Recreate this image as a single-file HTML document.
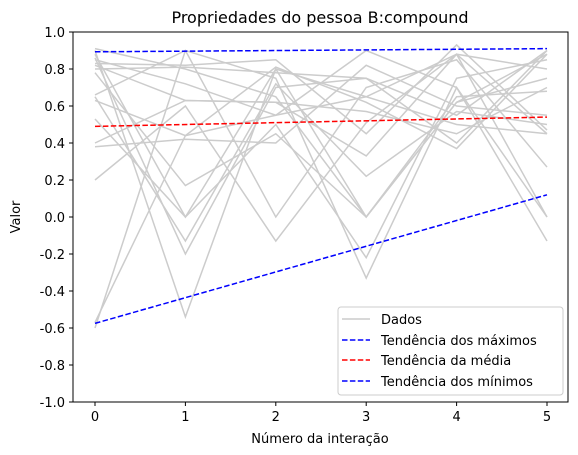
<!DOCTYPE html>
<html><head><meta charset="utf-8"><style>
body{margin:0;background:#fff;}
svg{display:block;font-family:"DejaVu Sans","Liberation Sans",sans-serif;}
</style></head><body>
<svg id="c" width="578" height="455" viewBox="0 0 578 455">
<rect width="578" height="455" fill="#fff"/>
<text x="320" y="23" text-anchor="middle" font-size="16">Propriedades do pessoa B:compound</text>
<g id="grid"></g>
<g id="series"></g>
<rect x="73" y="32" width="495" height="370" fill="none" stroke="#000" stroke-width="1"/>
<text x="320" y="443" text-anchor="middle" font-size="13">Número da interação</text>
<text transform="translate(20,217) rotate(-90)" text-anchor="middle" font-size="13">Valor</text>
<g>
<rect x="338" y="307" width="225" height="88" rx="3" fill="#fff" fill-opacity="0.8" stroke="#ccc"/>
<line x1="342" y1="319" x2="370" y2="319" stroke="#ccc" stroke-width="1.5"/>
<text x="381" y="324" font-size="13">Dados</text>
<line x1="342" y1="340" x2="370" y2="340" stroke="#0000ff" stroke-width="1.5" stroke-dasharray="5.5,2.4"/>
<text x="381" y="345" font-size="13">Tendência dos máximos</text>
<line x1="342" y1="360" x2="370" y2="360" stroke="#ff0000" stroke-width="1.5" stroke-dasharray="5.5,2.4"/>
<text x="381" y="365" font-size="13">Tendência da média</text>
<line x1="342" y1="381" x2="370" y2="381" stroke="#0000ff" stroke-width="1.5" stroke-dasharray="5.5,2.4"/>
<text x="381" y="386" font-size="13">Tendência dos mínimos</text>
</g>
</svg>
<script>
const xTicks=[0,1,2,3,4,5];
const yTicks=[-1.0,-0.8,-0.6,-0.4,-0.2,0.0,0.2,0.4,0.6,0.8,1.0];
const dataSeries=[
[0.91,0.80,0.65,0.00,0.62,0.88],
[0.88,0.00,0.80,0.65,0.50,0.45],
[0.85,0.72,0.55,0.90,0.70,0.00],
[0.83,0.82,0.85,0.45,0.93,0.47],
[0.82,0.63,0.62,0.33,0.88,0.80],
[0.80,0.81,0.78,0.75,0.40,0.90],
[0.78,0.17,0.45,0.00,0.65,0.68],
[0.66,0.90,0.00,0.70,0.85,0.27],
[0.65,-0.13,0.72,0.22,0.57,0.50],
[0.63,0.44,0.81,0.62,0.37,0.88],
[0.53,0.00,0.50,-0.22,0.75,0.85],
[0.40,0.63,0.62,0.57,0.45,0.70],
[0.38,0.42,0.40,0.82,0.60,0.55],
[0.20,0.60,-0.13,0.51,0.88,0.45],
[-0.60,0.90,0.75,-0.33,0.70,-0.13],
[0.90,-0.54,0.80,0.00,0.62,0.75],
[0.86,-0.20,0.70,0.75,0.55,0.90],
[-0.57,0.44,0.55,0.65,0.88,0.00]
];
const maxTrend=[0.893,0.91];
const meanTrend=[0.49,0.54];
const minTrend=[-0.575,0.12];
const X=v=>95+v*90.4;
const Y=v=>217-v*185;
const NS='http://www.w3.org/2000/svg';
const g=document.getElementById('series');
const gr=document.getElementById('grid');
function mk(t,a,p){const e=document.createElementNS(NS,t);for(const k in a)e.setAttribute(k,a[k]);p.appendChild(e);return e;}
xTicks.forEach(t=>{
 const l=mk('line',{x1:X(t),x2:X(t),y1:402,y2:406,stroke:'#000'},gr);
 
 
 const tx=mk('text',{x:X(t),y:421,'text-anchor':'middle','font-size':13},gr);tx.textContent=t;
 
 
});
yTicks.forEach(t=>{
 const l=mk('line',{x1:69,x2:73,y1:Y(t),y2:Y(t),stroke:'#000'},gr);
 
 
 const tx=mk('text',{x:65,y:Y(t)+5,'text-anchor':'end','font-size':13},gr);tx.textContent=t.toFixed(1);
 
 
});
dataSeries.forEach(s=>{
 const p=mk('polyline',{points:s.map((v,i)=>X(i)+','+Y(v)).join(' '),fill:'none',stroke:'#cccccc','stroke-width':1.5},g);
 
 
});
[[maxTrend,'#0000ff','max-trend-line'],[meanTrend,'#ff0000','mean-trend-line'],[minTrend,'#0000ff','min-trend-line']].forEach(([d,c,n])=>{
 const l=mk('line',{x1:X(0),y1:Y(d[0]),x2:X(5),y2:Y(d[1]),stroke:c,'stroke-width':1.5,'stroke-dasharray':'5.5,2.4'},g);
 
 
});
</script>
</body></html>
